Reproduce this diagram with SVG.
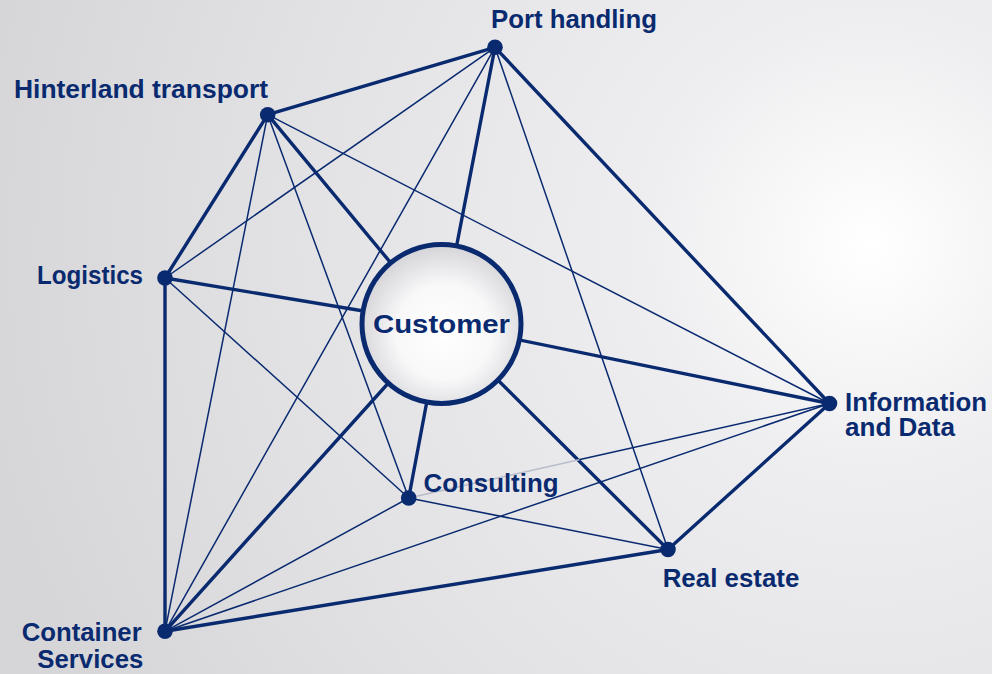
<svg xmlns="http://www.w3.org/2000/svg" width="992" height="674" viewBox="0 0 992 674">
<defs>
<radialGradient id="bg" gradientUnits="userSpaceOnUse" cx="870" cy="245" r="900">
<stop offset="0" stop-color="#ffffff"/>
<stop offset="0.25" stop-color="#eeeef0"/>
<stop offset="0.65" stop-color="#e2e2e4"/>
<stop offset="1" stop-color="#d6d6d8"/>
</radialGradient>
<radialGradient id="cf" cx="0.52" cy="0.55" r="0.55">
<stop offset="0" stop-color="#ffffff"/>
<stop offset="0.55" stop-color="#f8f8f9"/>
<stop offset="1" stop-color="#d4d4d8"/>
</radialGradient>
<style>
.thick{stroke:#0a2a70;stroke-width:3.4;stroke-linecap:round;fill:none}
.thin{stroke:#0a2a70;stroke-width:1.5;stroke-linecap:round;fill:none}
.faint{stroke:#b8bccb;stroke-width:1.5;fill:none}
.dot{fill:#0a2a70}
.lbl{font-family:"Liberation Sans",Arial,Helvetica,sans-serif;font-weight:bold;font-size:25px;fill:#0a2a70}
.cust{font-family:"Liberation Sans",Arial,Helvetica,sans-serif;font-weight:bold;font-size:26.5px;fill:#0a2a70}
</style>
</defs>
<rect width="992" height="674" fill="url(#bg)"/>
<g id="connectors">
<line class="thick" x1="495" y1="47.3" x2="267.7" y2="114.7"/>
<line class="thick" x1="267.7" y1="114.7" x2="165" y2="278"/>
<line class="thick" x1="165" y1="278" x2="165" y2="631.3"/>
<line class="thick" x1="165" y1="631.3" x2="668" y2="549.5"/>
<line class="thick" x1="668" y1="549.5" x2="829.5" y2="403.5"/>
<line class="thick" x1="829.5" y1="403.5" x2="495" y2="47.3"/>
<line class="thick" x1="495" y1="47.3" x2="441.5" y2="324"/>
<line class="thick" x1="267.7" y1="114.7" x2="441.5" y2="324"/>
<line class="thick" x1="165" y1="278" x2="441.5" y2="324"/>
<line class="thick" x1="829.5" y1="403.5" x2="441.5" y2="324"/>
<line class="thick" x1="408.7" y1="498" x2="441.5" y2="324"/>
<line class="thick" x1="668" y1="549.5" x2="441.5" y2="324"/>
<line class="thick" x1="165" y1="631.3" x2="441.5" y2="324"/>
<line class="thin" x1="495" y1="47.3" x2="165" y2="278"/>
<line class="thin" x1="495" y1="47.3" x2="165" y2="631.3"/>
<line class="thin" x1="495" y1="47.3" x2="668" y2="549.5"/>
<line class="thin" x1="267.7" y1="114.7" x2="829.5" y2="403.5"/>
<line class="thin" x1="267.7" y1="114.7" x2="408.7" y2="498"/>
<line class="thin" x1="267.7" y1="114.7" x2="165" y2="631.3"/>
<line class="thin" x1="165" y1="278" x2="408.7" y2="498"/>
<line class="thin" x1="165" y1="631.3" x2="408.7" y2="498"/>
<line class="thin" x1="165" y1="631.3" x2="829.5" y2="403.5"/>
<line class="thin" x1="408.7" y1="498" x2="668" y2="549.5"/>
<line class="faint" x1="408.7" y1="498" x2="580" y2="459.5"/>
<line class="thin" x1="580" y1="459.5" x2="829.5" y2="403.5"/>
</g>
<g id="customer">
<circle cx="441.5" cy="324" r="79.5" fill="url(#cf)" stroke="#0a2a70" stroke-width="5"/>
<text class="cust" x="373" y="333" textLength="137" lengthAdjust="spacingAndGlyphs">Customer</text>
</g>
<g id="port-handling">
<circle class="dot" cx="495" cy="47.3" r="7.8"/>
<text class="lbl" x="491" y="28" textLength="166" lengthAdjust="spacingAndGlyphs">Port handling</text>
</g>
<g id="hinterland-transport">
<circle class="dot" cx="267.7" cy="114.7" r="7.8"/>
<text class="lbl" x="14" y="97.5" textLength="254" lengthAdjust="spacingAndGlyphs">Hinterland transport</text>
</g>
<g id="logistics">
<circle class="dot" cx="165" cy="278" r="7.8"/>
<text class="lbl" x="37" y="283.5" textLength="106" lengthAdjust="spacingAndGlyphs">Logistics</text>
</g>
<g id="information-and-data">
<circle class="dot" cx="829.5" cy="403.5" r="7.8"/>
<text class="lbl"><tspan x="845" y="411" textLength="142" lengthAdjust="spacingAndGlyphs">Information</tspan><tspan x="845" y="435.5" textLength="110" lengthAdjust="spacingAndGlyphs">and Data</tspan></text>
</g>
<g id="consulting">
<circle class="dot" cx="408.7" cy="498" r="7.8"/>
<text class="lbl" x="423.5" y="491.5" textLength="135" lengthAdjust="spacingAndGlyphs">Consulting</text>
</g>
<g id="real-estate">
<circle class="dot" cx="668" cy="549.5" r="7.8"/>
<text class="lbl" x="662.7" y="587" textLength="136.6" lengthAdjust="spacingAndGlyphs">Real estate</text>
</g>
<g id="container-services">
<circle class="dot" cx="165" cy="631.3" r="7.8"/>
<text class="lbl"><tspan x="21.7" y="641" textLength="120" lengthAdjust="spacingAndGlyphs">Container</tspan><tspan x="37.3" y="668" textLength="106" lengthAdjust="spacingAndGlyphs">Services</tspan></text>
</g>
</svg>
